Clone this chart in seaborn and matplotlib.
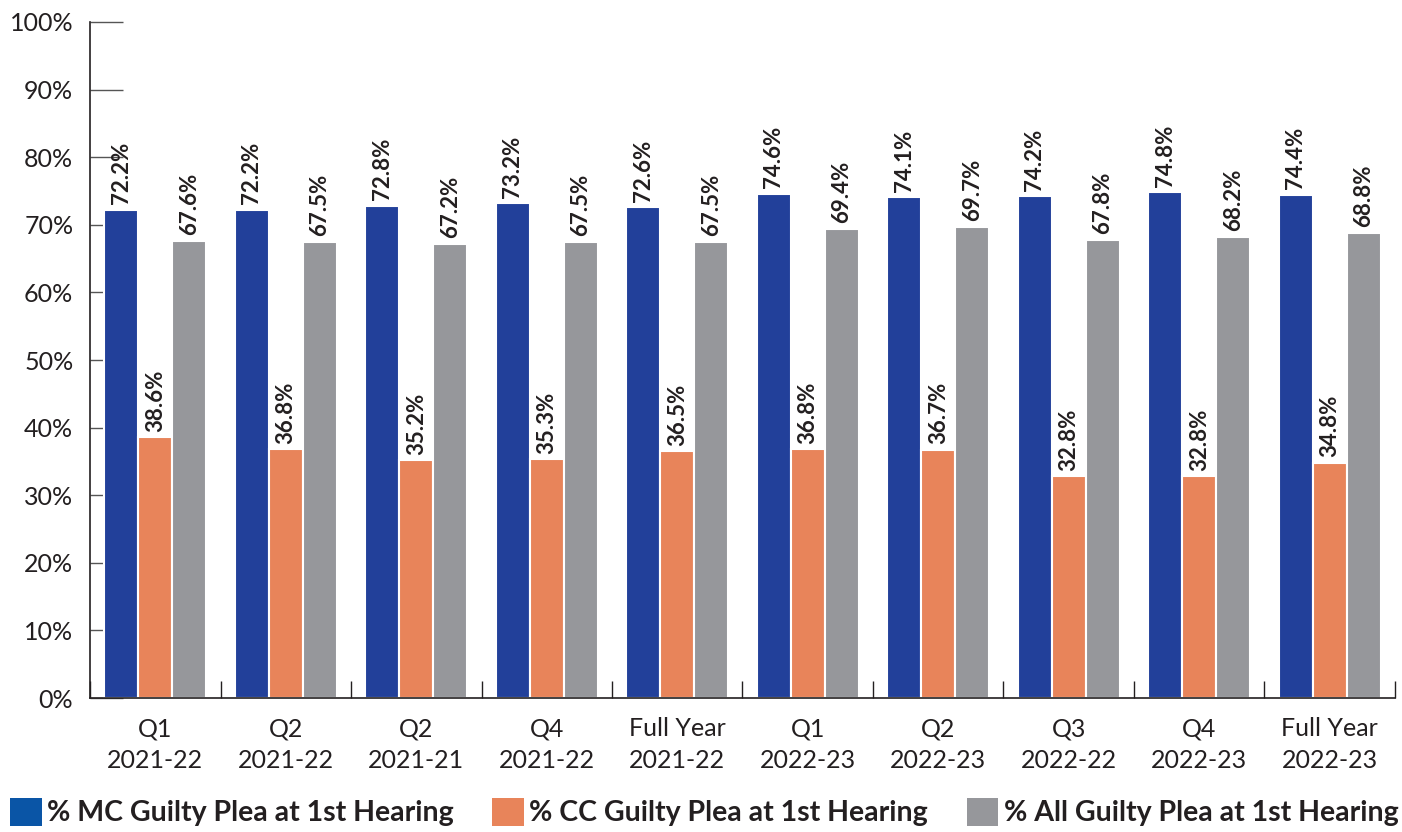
import numpy as np
import pandas as pd
import matplotlib
matplotlib.use("Agg")
import matplotlib.pyplot as plt
import seaborn as sns
from matplotlib.patches import Patch

# Data
periods = ["Q1\n2021-22", "Q2\n2021-22", "Q2\n2021-21", "Q4\n2021-22", "Full Year\n2021-22",
           "Q1\n2022-23", "Q2\n2022-23", "Q3\n2022-22", "Q4\n2022-23", "Full Year\n2022-23"]
series = ["% MC Guilty Plea at 1st Hearing",
          "% CC Guilty Plea at 1st Hearing",
          "% All Guilty Plea at 1st Hearing"]
mc_vals = [72.2, 72.2, 72.8, 73.2, 72.6, 74.6, 74.1, 74.2, 74.8, 74.4]
cc_vals = [38.6, 36.8, 35.2, 35.3, 36.5, 36.8, 36.7, 32.8, 32.8, 34.8]
all_vals = [67.6, 67.5, 67.2, 67.5, 67.5, 69.4, 69.7, 67.8, 68.2, 68.8]

bar_colors = ["#22409A", "#E8845A", "#96979B"]
legend_colors = ["#0A55A6", "#E8845A", "#96979B"]

# Long-form table for seaborn
df = pd.DataFrame({
    "period": np.tile(np.arange(len(periods)), 3),
    "series": np.repeat(series, len(periods)),
    "value": mc_vals + cc_vals + all_vals,
})

sns.set_style("white")
plt.rcParams["font.family"] = ["Lato", "DejaVu Sans"]
plt.rcParams["text.color"] = "#231F20"

fig = plt.figure(figsize=(14.02, 8.32), dpi=100)
ax = fig.add_axes([0.0642, 0.161, 0.9308, 0.8126])

sns.barplot(data=df, x="period", y="value", hue="series", hue_order=series,
            palette=bar_colors, saturation=1, width=0.78, edgecolor="white",
            linewidth=1.5, legend=False, ax=ax, zorder=3)

# value labels on top of every bar
for cont in ax.containers:
    ax.bar_label(cont, fmt="%.1f%%", rotation=90, padding=4,
                 fontsize=16, fontweight="bold", color="#231F20")

ax.set_ylim(0, 100)
ax.set_xlim(-0.5, len(periods) - 0.5)
ax.set_yticks(range(0, 101, 10))
ax.set_yticklabels([f"{v}%" for v in range(0, 101, 10)], fontsize=18, color="#231F20")
ax.set_xticks(range(len(periods)))
ax.set_xticklabels(periods, fontsize=18, color="#231F20", linespacing=1.45)
ax.set_xticks(np.arange(-0.5, len(periods), 1.0), minor=True)

ax.tick_params(axis="y", left=True, direction="in", length=24, width=1,
               color="#555555", pad=12)
ax.tick_params(axis="x", which="major", bottom=True, length=0, pad=14)
ax.tick_params(axis="x", which="minor", bottom=True, direction="in", length=12,
               width=1, color="#231F20")

ax.set_xlabel("")
ax.set_ylabel("")
sns.despine(ax=ax, top=True, right=True)
for s in ["left", "bottom"]:
    ax.spines[s].set_color("#231F20")
    ax.spines[s].set_linewidth(1.2)
    ax.spines[s].set_zorder(4)

handles = [Patch(facecolor=c, edgecolor="none") for c in legend_colors]
fig.legend(handles, series, loc="lower left", bbox_to_anchor=(-0.011, -0.024), ncol=3,
           frameon=False, handlelength=1.1, handleheight=1.15, handletextpad=0.2,
           columnspacing=1.35, prop={"size": 20.5, "weight": "bold"})

fig.savefig("out.png", dpi=100)
